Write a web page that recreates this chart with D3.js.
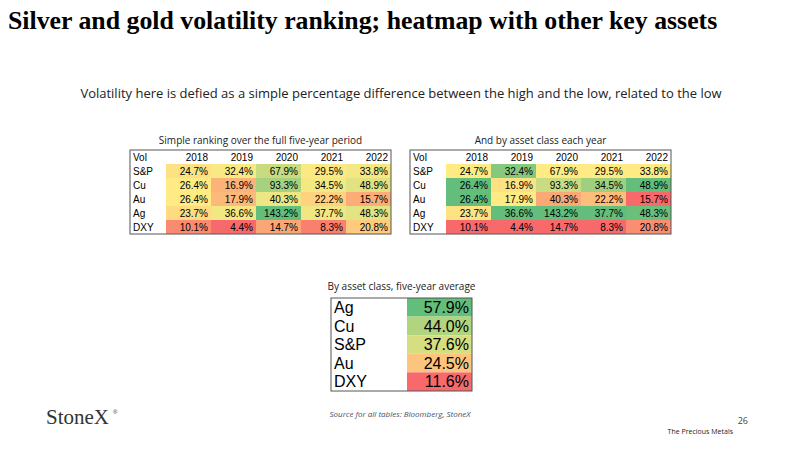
<!DOCTYPE html>
<html><head><meta charset="utf-8">
<script src="https://cdn.jsdelivr.net/npm/d3@7"></script>
<style>body{margin:0;background:#fff}</style>
</head><body>
<svg id="c" width="800" height="450"></svg>
<script>
const years = ['2018', '2019', '2020', '2021', '2022'];
const assets = ['S&P', 'Cu', 'Au', 'Ag', 'DXY'];
const vol = [
  [24.7, 32.4, 67.9, 29.5, 33.8],
  [26.4, 16.9, 93.3, 34.5, 48.9],
  [26.4, 17.9, 40.3, 22.2, 15.7],
  [23.7, 36.6, 143.2, 37.7, 48.3],
  [10.1, 4.4, 14.7, 8.3, 20.8]
];
const avgAssets = ['Ag', 'Cu', 'S&P', 'Au', 'DXY'];
const avgVals = [57.9, 44.0, 37.6, 24.5, 11.6];

const svg = d3.select('#c');
const RED = '#f8696b', YEL = '#ffeb84', GRN = '#63be7b';

function scale3(vals, mid) {
  return d3.scaleLinear().domain([d3.min(vals), mid, d3.max(vals)]).range([RED, YEL, GRN]);
}

// title and notes
svg.append('text').attr('x', 8).attr('y', 29).attr('font-family', 'Liberation Serif')
  .attr('font-weight', 'bold').attr('font-size', 25.8).text('Silver and gold volatility ranking; heatmap with other key assets');
svg.append('text').attr('x', 401).attr('y', 98).attr('text-anchor', 'middle')
  .attr('font-family', 'Open Sans').attr('font-size', 13).attr('fill', '#222')
  .text('Volatility here is defied as a simple percentage difference between the high and the low, related to the low');

function table(x0, y0, title, colorFor) {
  const labelW = 36, colW = 45, rowH = 14;
  const g = svg.append('g').attr('transform', `translate(${x0},${y0})`);
  g.append('text').attr('x', (labelW + colW * 5) / 2).attr('y', -6).attr('text-anchor', 'middle')
    .attr('font-family', 'Open Sans').attr('font-size', 10).attr('fill', '#222').text(title);
  const x = d3.scaleBand().domain(years).range([labelW, labelW + colW * 5]);
  const y = d3.scaleBand().domain(['Vol'].concat(assets)).range([0, rowH * 6]);
  g.selectAll('text.h').data(years).join('text').attr('x', d => x(d) + colW - 3).attr('y', y('Vol') + 11)
    .attr('text-anchor', 'end').attr('font-family', 'Liberation Sans').attr('font-size', 10).text(d => d);
  ['Vol'].concat(assets).forEach(a => g.append('text').attr('x', 3).attr('y', y(a) + 11)
    .attr('font-family', 'Liberation Sans').attr('font-size', 10).text(a));
  assets.forEach((a, i) => years.forEach((yr, j) => {
    g.append('rect').attr('x', x(yr)).attr('y', y(a)).attr('width', colW).attr('height', rowH)
      .attr('fill', colorFor(i, j));
    g.append('text').attr('x', x(yr) + colW - 3).attr('y', y(a) + 11).attr('text-anchor', 'end')
      .attr('font-family', 'Liberation Sans').attr('font-size', 10).text(vol[i][j].toFixed(1) + '%');
  }));
  g.append('rect').attr('width', labelW + colW * 5).attr('height', rowH * 6).attr('fill', 'none')
    .attr('stroke', '#555').attr('stroke-width', 1);
}

const all = vol.flat();
const sAll = scale3(all, d3.median(all));
table(130, 150, 'Simple ranking over the full five-year period', (i, j) => sAll(vol[i][j]));

const colScales = years.map((yr, j) => { const c = vol.map(r => r[j]); return scale3(c, d3.median(c)); });
table(410, 150, 'And by asset class each year', (i, j) => colScales[j](vol[i][j]));

// five-year average
{
  const x0 = 331, y0 = 298, labelW = 76, valW = 65, rowH = 18.6;
  const g = svg.append('g').attr('transform', `translate(${x0},${y0})`);
  g.append('text').attr('x', (labelW + valW) / 2).attr('y', -8).attr('text-anchor', 'middle')
    .attr('font-family', 'Open Sans').attr('font-size', 10).attr('fill', '#222').text('By asset class, five-year average');
  const y = d3.scaleBand().domain(avgAssets).range([0, rowH * 5]);
  const s = scale3(avgVals, 30);
  avgAssets.forEach((a, i) => {
    g.append('rect').attr('x', labelW).attr('y', y(a)).attr('width', valW).attr('height', rowH).attr('fill', s(avgVals[i]));
    g.append('text').attr('x', 3).attr('y', y(a) + 15).attr('font-family', 'Liberation Sans').attr('font-size', 16).text(a);
    g.append('text').attr('x', labelW + valW - 3).attr('y', y(a) + 15).attr('text-anchor', 'end')
      .attr('font-family', 'Liberation Sans').attr('font-size', 16).text(avgVals[i].toFixed(1) + '%');
  });
  g.append('rect').attr('width', labelW + valW).attr('height', rowH * 5).attr('fill', 'none').attr('stroke', '#555');
}

svg.append('text').attr('x', 46).attr('y', 424).attr('font-family', 'Liberation Serif').attr('font-size', 21)
  .attr('fill', '#333').text('StoneX');
svg.append('text').attr('x', 113).attr('y', 414).attr('font-size', 6).attr('font-family', 'Liberation Sans').attr('fill', '#333').text('®');
svg.append('text').attr('x', 400).attr('y', 417).attr('text-anchor', 'middle').attr('font-family', 'Open Sans')
  .attr('font-style', 'italic').attr('font-size', 8).attr('fill', '#44546a').text('Source for all tables: Bloomberg, StoneX');
svg.append('text').attr('x', 748).attr('y', 424).attr('text-anchor', 'end').attr('font-family', 'Open Sans')
  .attr('font-size', 9).attr('fill', '#444').text('26');
svg.append('text').attr('x', 733).attr('y', 434).attr('text-anchor', 'end').attr('font-family', 'Open Sans')
  .attr('font-size', 7).attr('fill', '#222').text('The Precious Metals');
</script>
</body></html>
